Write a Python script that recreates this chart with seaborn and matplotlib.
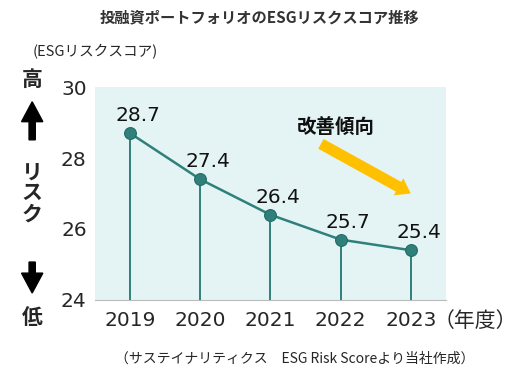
import matplotlib
matplotlib.use("Agg")
import matplotlib.pyplot as plt
import seaborn as sns
import pandas as pd
from matplotlib.patches import FancyArrow

years = [2019, 2020, 2021, 2022, 2023]
scores = [28.7, 27.4, 26.4, 25.7, 25.4]
yticks = [24, 26, 28, 30]

df = pd.DataFrame({"year": years, "score": scores})

sns.set_style("white")
plt.rcParams['font.family'] = ['Noto Sans CJK JP', 'DejaVu Sans']
num_font = ['DejaVu Sans']

line_col = "#2F7F7B"
fig = plt.figure(figsize=(5.19, 3.82), dpi=100)
ax = fig.add_axes([0.183, 0.215, 0.676, 0.557])
ax.set_facecolor("#E4F4F4")

ax.vlines(df["year"], 24, df["score"], color=line_col, lw=1.4, zorder=2)
sns.lineplot(data=df, x="year", y="score", ax=ax, color=line_col, lw=1.8,
             marker="o", markersize=8.5, markerfacecolor=line_col,
             markeredgecolor="#246A66", markeredgewidth=0.8, zorder=3)
for x, y in zip(years, scores):
    ax.text(x + 0.11, y + 0.22, f"{y}", ha="center", va="bottom", fontsize=14.5,
            color="#111111", family=num_font)

ax.set_xlim(2018.5, 2023.5)
ax.set_ylim(24, 30)
ax.set_xticks(years)
ax.set_xticklabels([str(y) for y in years], fontsize=14.5, family=num_font)
ax.set_yticks(yticks)
ax.set_yticklabels([str(t) for t in yticks], fontsize=14.5, family=num_font)
ax.tick_params(axis="x", length=0, pad=8)
ax.tick_params(axis="y", length=0, pad=6)
ax.set_xlabel("")
ax.set_ylabel("")
for s in ["top", "right", "left"]:
    ax.spines[s].set_visible(False)
ax.spines["bottom"].set_color("#BBBBBB")

# improvement arrow
ax.annotate("", xy=(2023.0, 27.0), xytext=(2021.72, 28.4),
            arrowprops=dict(arrowstyle="simple,head_length=1.0,head_width=1.4,tail_width=0.8",
                            color="#FFC000", lw=0, shrinkA=0, shrinkB=0))
ax.text(2021.37, 28.87, "改善傾向", fontsize=14, fontweight="bold", ha="left", va="center",
        color="#111111")

fig.text(0.5, 0.955, "投融資ポートフォリオのESGリスクスコア推移", ha="center", va="center",
         fontsize=11, fontweight="bold", color="#333333")
fig.text(0.062, 0.865, "(ESGリスクスコア)", ha="left", va="center", fontsize=10.5)
fig.text(0.062, 0.791, "高", ha="center", va="center", fontsize=15, fontweight="bold")
fig.text(0.062, 0.495, "リ\nス\nク", ha="center", va="center", fontsize=15, fontweight="bold",
         linespacing=1.0)
fig.text(0.062, 0.168, "低", ha="center", va="center", fontsize=15, fontweight="bold")
fig.add_artist(FancyArrow(0.062, 0.634, 0, 0.0995, width=0.012, head_width=0.041,
                          head_length=0.052, length_includes_head=True, color="black",
                          transform=fig.transFigure))
fig.add_artist(FancyArrow(0.062, 0.314, 0, -0.081, width=0.012, head_width=0.041,
                          head_length=0.052, length_includes_head=True, color="black",
                          transform=fig.transFigure))
fig.text(0.997, 0.16, "（年度）", ha="right", va="center", fontsize=15)
fig.text(0.568, 0.06, "（サステイナリティクス　ESG Risk Scoreより当社作成）", ha="center",
         va="center", fontsize=10)

plt.savefig("out.png", dpi=100)
plt.close()
